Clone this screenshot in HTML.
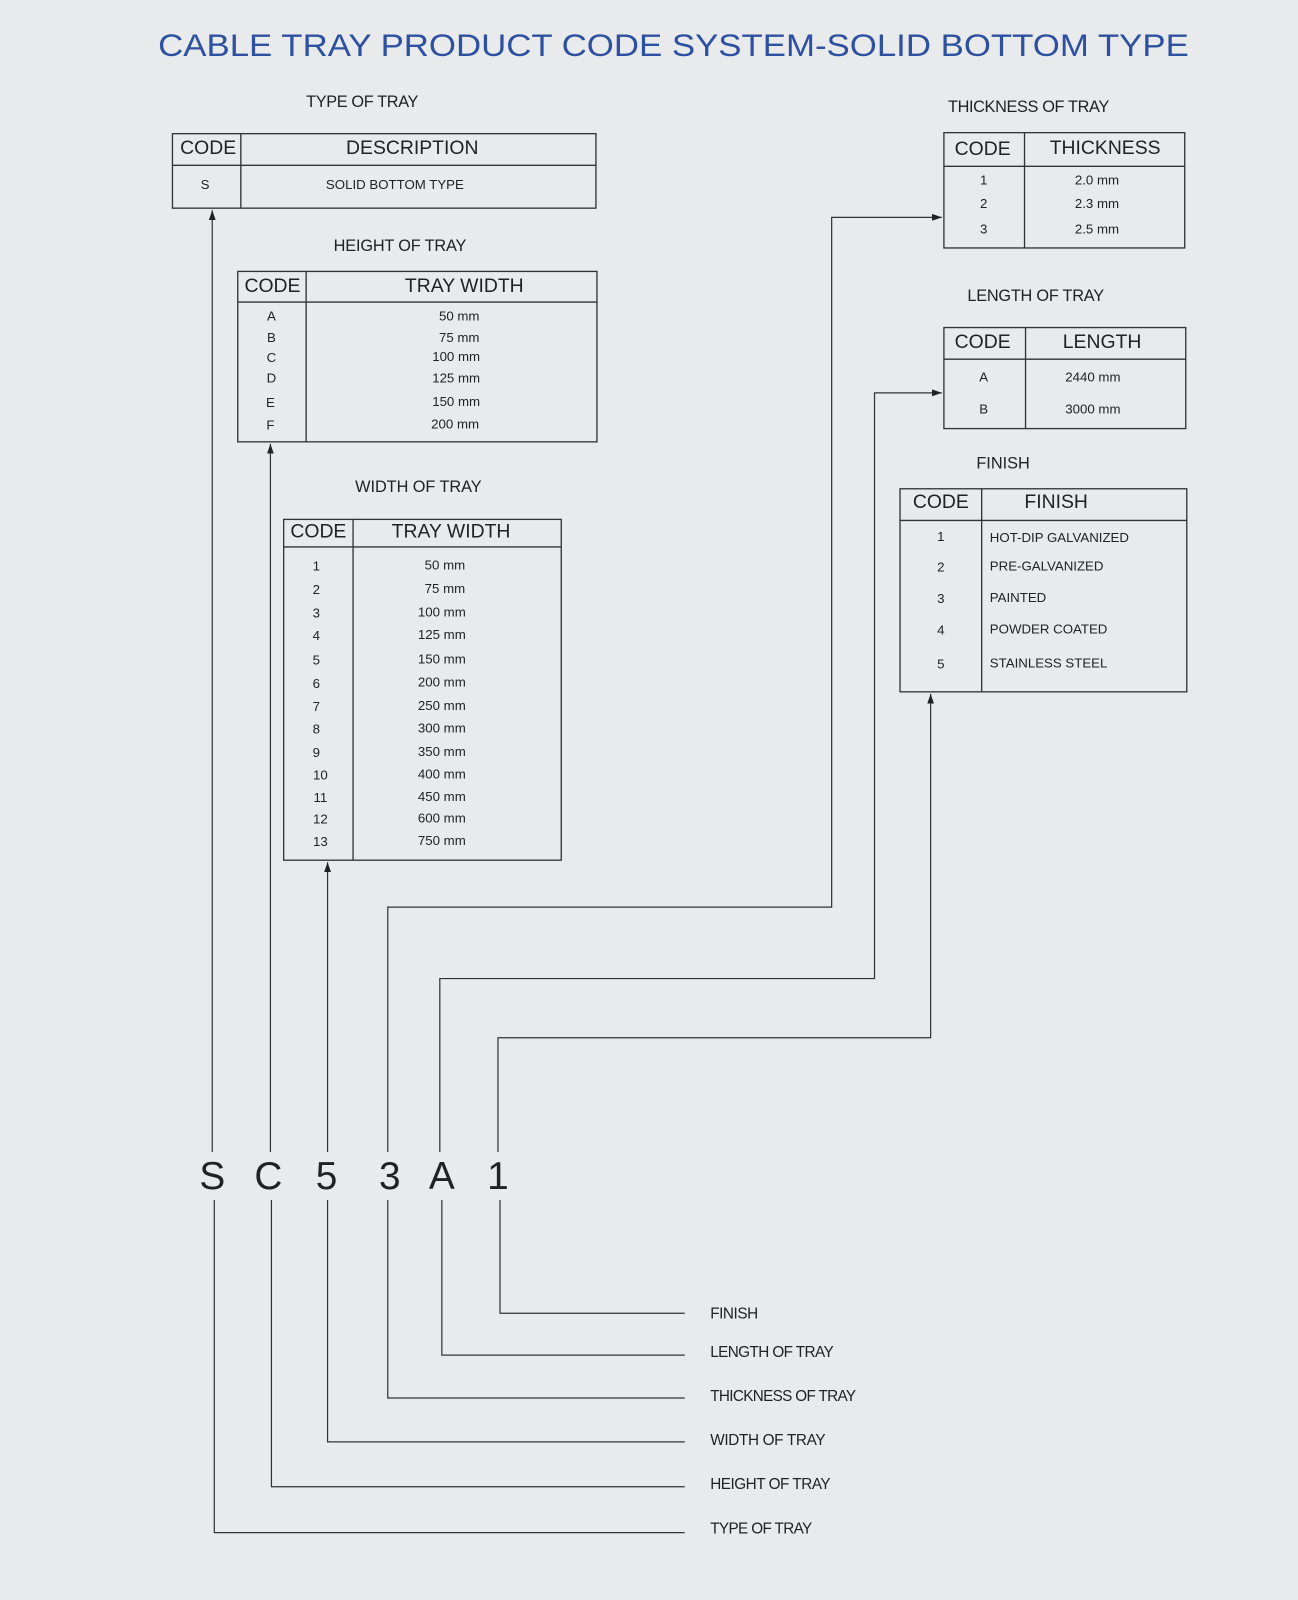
<!DOCTYPE html>
<html><head><meta charset="utf-8"><style>
html,body{margin:0;padding:0;background:#e9eaec;}
svg{display:block}
text{font-family:"Liberation Sans",sans-serif;fill:#222}
</style></head><body>
<svg width="1298" height="1600" viewBox="0 0 1272 1568" preserveAspectRatio="none" xmlns="http://www.w3.org/2000/svg">
<defs><marker id="ar" viewBox="0 0 10 10" refX="10" refY="5" markerWidth="8" markerHeight="8" orient="auto-start-reverse"><path d="M0,1.5 L10,5 L0,8.5 z" fill="#222"/></marker></defs>
<rect width="1272" height="1568" fill="#e9eaec"/>
<text x="660" y="55" text-anchor="middle" font-size="31" style="fill:#2d51a0" textLength="1010" lengthAdjust="spacingAndGlyphs">CABLE TRAY PRODUCT CODE SYSTEM-SOLID BOTTOM TYPE</text>

<g fill="none" stroke="#333" stroke-width="1.3">
<rect x="169" y="131" width="415" height="73"/><line x1="169" y1="162" x2="584" y2="162"/><line x1="236" y1="131" x2="236" y2="204"/>
<rect x="233" y="266" width="352" height="167"/><line x1="233" y1="296" x2="585" y2="296"/><line x1="300" y1="266" x2="300" y2="433"/>
<rect x="278" y="509" width="272" height="334"/><line x1="278" y1="536" x2="550" y2="536"/><line x1="346" y1="509" x2="346" y2="843"/>
<rect x="925" y="130" width="236" height="113"/><line x1="925" y1="163" x2="1161" y2="163"/><line x1="1004" y1="130" x2="1004" y2="243"/>
<rect x="925" y="321" width="237" height="99"/><line x1="925" y1="352" x2="1162" y2="352"/><line x1="1005" y1="321" x2="1005" y2="420"/>
<rect x="882" y="479" width="281" height="199"/><line x1="882" y1="510" x2="1163" y2="510"/><line x1="962" y1="479" x2="962" y2="678"/>
</g>

<g fill="none" stroke="#333" stroke-width="1.2">
<polyline points="208,1129 208,206" marker-end="url(#ar)"/>
<polyline points="265,1129 265,435" marker-end="url(#ar)"/>
<polyline points="321,1129 321,845" marker-end="url(#ar)"/>
<polyline points="380,1129 380,889 815,889 815,213 923,213" marker-end="url(#ar)"/>
<polyline points="431,1129 431,959 857,959 857,385 923,385" marker-end="url(#ar)"/>
<polyline points="488,1129 488,1017 912,1017 912,680" marker-end="url(#ar)"/>
<polyline points="210,1176 210,1502 671,1502"/>
<polyline points="266,1176 266,1457 671,1457"/>
<polyline points="321,1176 321,1413 671,1413"/>
<polyline points="380,1176 380,1370 671,1370"/>
<polyline points="433,1176 433,1328 671,1328"/>
<polyline points="490,1176 490,1287 671,1287"/>
</g>

<g font-size="16" text-anchor="middle">
<text x="355" y="105" textLength="110">TYPE OF TRAY</text>
<text x="392" y="246" textLength="130">HEIGHT OF TRAY</text>
<text x="410" y="482" textLength="124">WIDTH OF TRAY</text>
<text x="1008" y="110" textLength="158">THICKNESS OF TRAY</text>
<text x="1015" y="295" textLength="134">LENGTH OF TRAY</text>
<text x="983" y="459">FINISH</text>
</g>
<g font-size="19" text-anchor="middle">
<text x="204" y="151">CODE</text><text x="404" y="151">DESCRIPTION</text>
<text x="267" y="286">CODE</text><text x="455" y="286">TRAY WIDTH</text>
<text x="312" y="527">CODE</text><text x="442" y="527">TRAY WIDTH</text>
<text x="963" y="152">CODE</text><text x="1083" y="151">THICKNESS</text>
<text x="963" y="341">CODE</text><text x="1080" y="341">LENGTH</text>
<text x="922" y="498">CODE</text><text x="1035" y="498">FINISH</text>
</g>
<g font-size="13" text-anchor="middle">
<text x="201" y="185">S</text><text x="387" y="185">SOLID BOTTOM TYPE</text>
<text x="266" y="314">A</text><text x="450" y="314">50 mm</text>
<text x="266" y="335">B</text><text x="450" y="335">75 mm</text>
<text x="266" y="355">C</text><text x="447" y="354">100 mm</text>
<text x="266" y="375">D</text><text x="447" y="375">125 mm</text>
<text x="265" y="399">E</text><text x="447" y="398">150 mm</text>
<text x="265" y="421">F</text><text x="446" y="420">200 mm</text>
<text x="310" y="559">1</text><text x="436" y="558">50 mm</text>
<text x="310" y="582">2</text><text x="436" y="581">75 mm</text>
<text x="310" y="605">3</text><text x="433" y="604">100 mm</text>
<text x="310" y="627">4</text><text x="433" y="626">125 mm</text>
<text x="310" y="651">5</text><text x="433" y="650">150 mm</text>
<text x="310" y="674">6</text><text x="433" y="673">200 mm</text>
<text x="310" y="697">7</text><text x="433" y="696">250 mm</text>
<text x="310" y="719">8</text><text x="433" y="718">300 mm</text>
<text x="310" y="742">9</text><text x="433" y="741">350 mm</text>
<text x="314" y="764">10</text><text x="433" y="763">400 mm</text>
<text x="314" y="786">11</text><text x="433" y="785">450 mm</text>
<text x="314" y="807">12</text><text x="433" y="806">600 mm</text>
<text x="314" y="829">13</text><text x="433" y="828">750 mm</text>
<text x="964" y="181">1</text><text x="1075" y="181">2.0 mm</text>
<text x="964" y="204">2</text><text x="1075" y="204">2.3 mm</text>
<text x="964" y="229">3</text><text x="1075" y="229">2.5 mm</text>
<text x="964" y="374">A</text><text x="1071" y="374">2440 mm</text>
<text x="964" y="405">B</text><text x="1071" y="405">3000 mm</text>
<text x="922" y="530">1</text><text x="922" y="560">2</text><text x="922" y="591">3</text><text x="922" y="622">4</text><text x="922" y="655">5</text>
</g>
<g font-size="13">
<text x="970" y="531">HOT-DIP GALVANIZED</text>
<text x="970" y="559">PRE-GALVANIZED</text>
<text x="970" y="590">PAINTED</text>
<text x="970" y="621">POWDER COATED</text>
<text x="970" y="654">STAINLESS STEEL</text>
</g>
<g font-size="38" text-anchor="middle">
<text x="208" y="1165">S</text><text x="263" y="1165">C</text><text x="320" y="1165">5</text><text x="382" y="1165">3</text><text x="433" y="1165">A</text><text x="488" y="1165">1</text>
</g>
<g font-size="15">
<text x="696" y="1292" textLength="47">FINISH</text>
<text x="696" y="1330" textLength="121">LENGTH OF TRAY</text>
<text x="696" y="1373" textLength="143">THICKNESS OF TRAY</text>
<text x="696" y="1416" textLength="113">WIDTH OF TRAY</text>
<text x="696" y="1459" textLength="118">HEIGHT OF TRAY</text>
<text x="696" y="1503" textLength="100">TYPE OF TRAY</text>
</g>
</svg>
</body></html>
